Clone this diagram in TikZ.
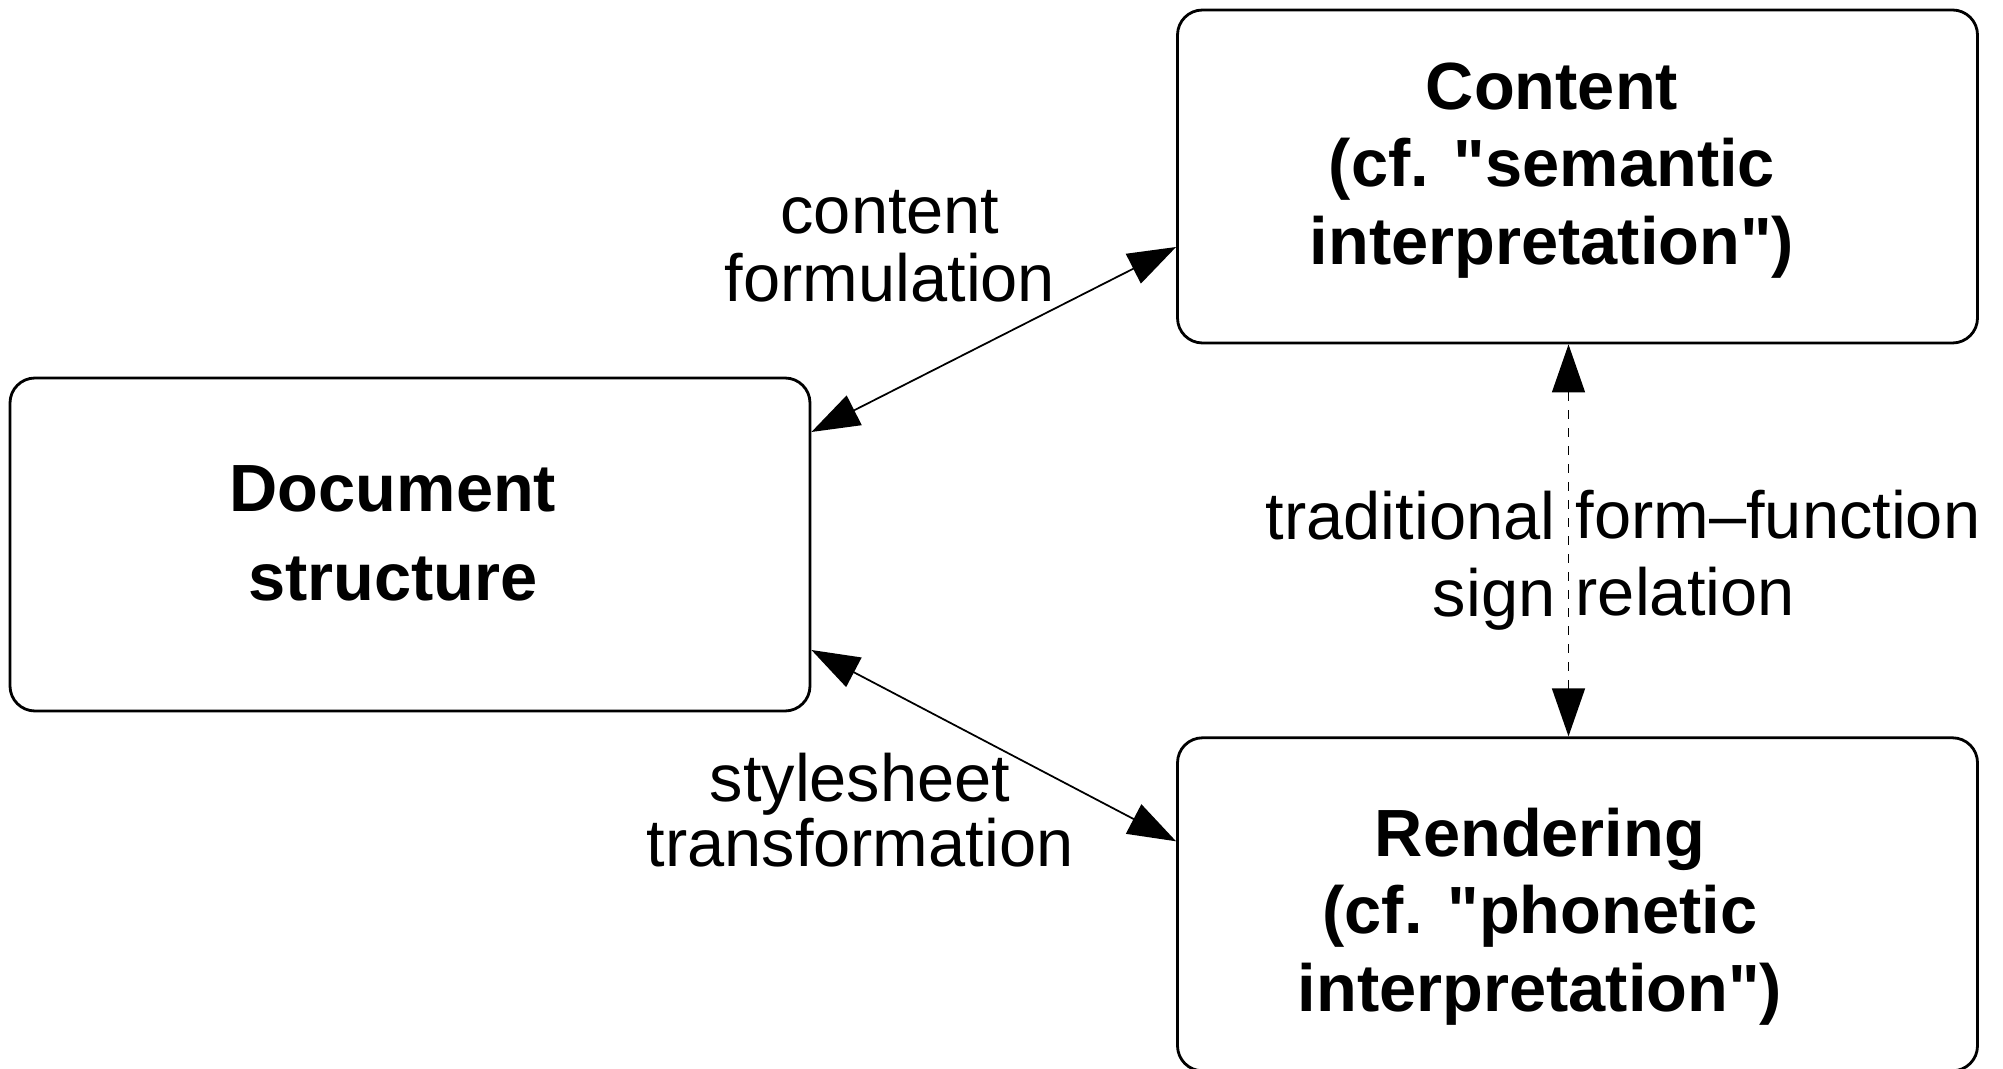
\documentclass[tikz,border=0pt]{standalone}
\usepackage{fontspec}
\setmainfont{Liberation Sans}
\usetikzlibrary{arrows.meta,positioning}

\begin{document}
\begin{tikzpicture}[node distance=3.92cm,
    box/.style={draw,rounded corners=0.25cm,line width=0.8pt,minimum width=8cm,minimum height=3.33cm},
    boxtext/.style={align=center,inner sep=0pt,font=\fontsize{19}{22}\selectfont\bfseries},
    note/.style={align=center,inner sep=0pt},
    twoway/.style={{Triangle[length=0.48cm,width=0.33cm]}-{Triangle[length=0.48cm,width=0.33cm]},line width=0.5pt}]
    \useasboundingbox (0,0) rectangle (20.03,-10.69);
    \node[box] (content) at (15.775,-1.765) {};
    \node[box] (render)  [below=of content] {};
    \node[box] (doc)     at (4.10,-5.445) {};
    \node[boxtext] (contenttext) at (15.52,-1.705) {Content\\(cf. \textquotedbl semantic\\interpretation\textquotedbl)};
    \node[boxtext] (rendertext)  at (15.40,-9.165) {Rendering\\(cf. \textquotedbl phonetic\\interpretation\textquotedbl)};
    \node[boxtext,font=\fontsize{19}{25.2}\selectfont\bfseries] (doctext) at (3.93,-5.335) {Document\\structure};
    \node[note,font=\fontsize{19}{19.3}\selectfont] (formlabel)  at (8.90,-2.46)  {content\\formulation};
    \node[note,font=\fontsize{19}{18.5}\selectfont] (stylelabel) at (8.60,-8.105) {stylesheet\\transformation};
    \node[note,font=\fontsize{19}{21.9}\selectfont,align=right,anchor=east] (signleft)  at (15.56,-5.605) {traditional\\sign};
    \node[note,font=\fontsize{19}{21.9}\selectfont,align=left,anchor=west]  (signright) at (15.75,-5.53)  {form–function\\relation};
    \draw[twoway] ([yshift=1.125cm]doc.east) -- ([yshift=-0.705cm]content.west);
    \draw[twoway] ([yshift=-1.055cm]doc.east) -- ([yshift=0.63cm]render.west);
    \draw[twoway,line width=0.4pt,dash pattern=on 0.09cm off 0.09cm] ([xshift=-0.09cm]content.south) -- ([xshift=-0.09cm]render.north);
\end{tikzpicture}
\end{document}
